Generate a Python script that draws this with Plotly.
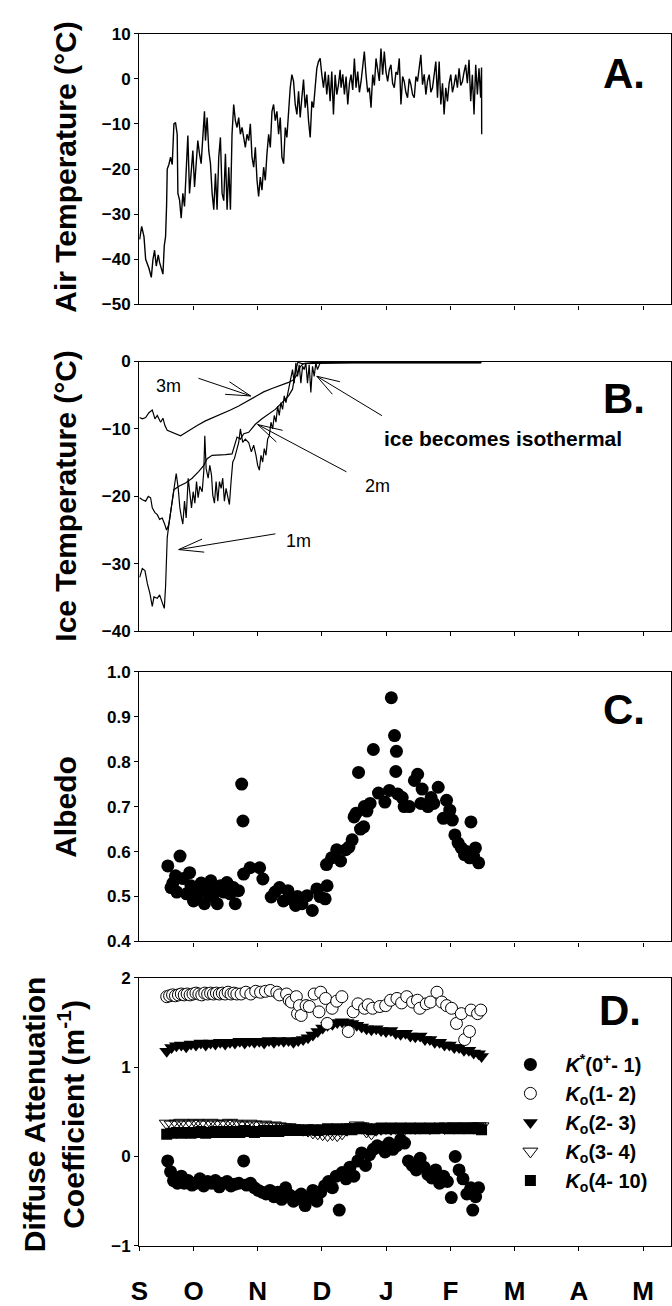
import math
import plotly.graph_objects as go

FONT = "Liberation Sans, Arial, Helvetica, sans-serif"
W, H = 672, 1306

# ---------------- data (x = month index, 0 = 1 September) ----------------
month_ticks = [1, 2, 3, 4, 5, 6, 7, 8]
month_labels = ["S", "O", "N", "D", "J", "F", "M", "A", "M"]

# Panel A: air temperature (deg C)
air_month = [0.161, 0.193, 0.229, 0.255, 0.306, 0.343, 0.369, 0.394, 0.420, 0.451, 0.472, 0.498, 0.524, 0.545,
             0.565, 0.581, 0.591, 0.617, 0.643, 0.669, 0.695, 0.720, 0.746, 0.757, 0.783, 0.808, 0.834, 0.860,
             0.886, 0.912, 0.938, 0.964, 0.990, 1.016, 1.041, 1.067, 1.093, 1.119, 1.145, 1.171, 1.186, 1.212,
             1.238, 1.264, 1.290, 1.316, 1.342, 1.367, 1.393, 1.419, 1.445, 1.471, 1.497, 1.523, 1.549, 1.575,
             1.600, 1.626, 1.652, 1.678, 1.704, 1.730, 1.756, 1.782, 1.807, 1.833, 1.859, 1.885, 1.911, 1.937,
             1.963, 1.989, 2.014, 2.040, 2.066, 2.092, 2.118, 2.144, 2.170, 2.196, 2.222, 2.247, 2.273, 2.299,
             2.325, 2.351, 2.377, 2.403, 2.429, 2.454, 2.480, 2.506, 2.532, 2.558, 2.584, 2.610, 2.636, 2.661,
             2.687, 2.713, 2.739, 2.765, 2.791, 2.817, 2.843, 2.868, 2.894, 2.920, 2.946, 2.972, 2.998, 3.024,
             3.050, 3.075, 3.101, 3.127, 3.153, 3.179, 3.205, 3.231, 3.257, 3.283, 3.298, 3.324, 3.350, 3.376,
             3.402, 3.428, 3.453, 3.479, 3.505, 3.531, 3.557, 3.583, 3.609, 3.635, 3.660, 3.686, 3.712, 3.738,
             3.764, 3.790, 3.816, 3.842, 3.867, 3.893, 3.919, 3.945, 3.971, 3.997, 4.023, 4.049, 4.074, 4.100,
             4.126, 4.152, 4.178, 4.204, 4.230, 4.256, 4.281, 4.307, 4.333, 4.359, 4.385, 4.411, 4.437, 4.463,
             4.488, 4.514, 4.540, 4.566, 4.592, 4.618, 4.644, 4.670, 4.696, 4.721, 4.747, 4.773, 4.799, 4.825,
             4.851, 4.877, 4.902, 4.928, 4.954, 4.980, 5.006, 5.032, 5.058, 5.083, 5.109, 5.135, 5.161, 5.187,
             5.213, 5.238, 5.264, 5.290, 5.316, 5.342, 5.368, 5.394, 5.420, 5.445, 5.471, 5.485, 5.487]
air_temp = [-35.6, -32.7, -35.0, -40.0, -42.0, -44.0, -40.0, -38.0, -41.5, -39.0, -40.7, -42.0, -43.3, -37.0,
            -35.0, -28.0, -20.0, -19.0, -17.4, -19.0, -10.0, -9.7, -12.3, -25.4, -26.9, -30.9, -25.4, -28.3,
            -18.8, -12.6, -25.4, -21.0, -15.9, -24.0, -18.0, -13.7, -16.6, -18.8, -13.0, -7.2, -13.7, -8.6,
            -16.0, -18.8, -25.4, -29.0, -21.0, -29.0, -17.4, -13.0, -25.4, -27.0, -16.6, -29.0, -19.6, -29.0,
            -12.3, -5.7, -9.3, -10.8, -8.6, -12.3, -10.8, -13.0, -15.2, -12.3, -13.7, -10.0, -17.4, -19.6,
            -15.2, -22.5, -26.1, -21.8, -24.7, -19.6, -22.5, -16.6, -12.3, -15.2, -7.2, -5.7, -9.3, -7.2,
            -12.3, -8.6, -17.4, -18.8, -10.8, -13.0, -6.4, -2.0, 0.9, -0.6, -5.7, -7.9, -2.8, -8.6,
            -4.2, -0.2, -6.4, -3.5, -9.3, -13.0, -5.0, -6.4, -2.0, 2.3, 3.8, 4.5, 0.9, -2.0,
            1.6, -3.5, 0.9, -5.0, 1.6, -7.9, 0.9, -3.5, -1.3, 2.0, -2.0, 1.0, -3.5, 0.5,
            -5.7, -1.0, 0.9, -2.5, 4.5, -2.0, 1.6, -3.0, -0.6, 2.5, 6.0, 0.9, -3.0, -2.0,
            -6.4, 0.9, -1.5, 4.5, 2.3, -0.5, 6.7, 0.9, 6.0, 1.5, -0.6, 2.0, 3.1, -1.0,
            -2.0, 1.5, 0.9, 4.5, -5.7, 0.5, -0.6, -3.0, -4.2, 0.0, -1.3, -3.5, -4.2, 0.5,
            -0.6, 2.0, 5.3, -1.3, 1.0, -3.5, -0.5, 0.9, -3.0, -2.0, 1.0, 3.8, -4.2, 3.8,
            -5.7, -1.0, -7.9, -2.0, -5.0, -1.0, 0.9, -3.0, -1.3, 0.9, -2.0, 2.3, -1.5, -0.6,
            1.5, 3.1, -1.0, 4.2, -5.0, 0.9, -7.9, 3.1, -3.5, 2.3, -4.2, 2.5, -12.3]

# Panel B: ice temperature at 1 m, 2 m, 3 m (deg C)
ice1_month = [0.161, 0.203, 0.244, 0.281, 0.322, 0.358, 0.384, 0.436, 0.472, 0.513, 0.545, 0.565, 0.591, 0.617,
              0.653, 0.695, 0.731, 0.762, 0.788, 0.814, 0.834, 0.860, 0.886, 0.917, 0.943, 0.969, 0.995, 1.021,
              1.047, 1.072, 1.098, 1.135, 1.160, 1.176, 1.197, 1.228, 1.254, 1.280, 1.300, 1.326, 1.352, 1.378,
              1.404, 1.430, 1.455, 1.481, 1.507, 1.533, 1.559, 1.585, 1.611, 1.637, 1.704, 1.730, 1.766, 1.807,
              1.859, 1.901, 1.937, 1.973, 1.999, 2.025, 2.051, 2.077, 2.102, 2.128, 2.154, 2.180, 2.206, 2.232,
              2.258, 2.284, 2.310, 2.335, 2.361, 2.387, 2.413, 2.439, 2.465, 2.491, 2.517, 2.542, 2.568, 2.594,
              2.620, 2.646, 2.672, 2.698, 2.724, 2.749, 2.775, 2.801, 2.827, 2.853, 2.879, 2.905, 2.930, 2.972,
              3.300, 4.000, 4.800, 5.480]
ice1_temp = [-32.0, -30.7, -31.0, -32.9, -34.4, -36.3, -34.9, -35.1, -34.6, -35.6, -36.6, -33.4, -26.1, -24.1,
             -21.7, -19.3, -16.6, -18.8, -21.7, -23.2, -24.1, -20.7, -23.2, -17.3, -19.8, -21.7, -19.3, -21.0,
             -17.8, -20.2, -18.5, -19.3, -16.3, -11.0, -15.9, -17.3, -15.4, -16.8, -19.8, -21.0, -17.8, -20.7,
             -17.8, -18.8, -17.3, -20.7, -18.8, -19.8, -21.2, -17.8, -14.9, -14.4, -12.0, -10.0, -12.0, -11.5,
             -12.0, -13.4, -12.4, -13.9, -15.4, -16.1, -13.9, -14.9, -12.9, -13.9, -11.5, -11.0, -9.0, -10.0,
             -8.0, -9.0, -6.6, -8.0, -6.1, -7.1, -5.1, -6.1, -4.9, -3.7, -2.7, -1.2, -3.2, -0.2,
             -2.2, -0.5, -3.2, -0.7, -1.2, -0.2, -3.2, -0.5, -4.6, -0.7, -2.2, -0.2, -1.2, -0.2,
             -0.15, -0.15, -0.15, -0.15]

ice2_month = [0.161, 0.203, 0.255, 0.296, 0.332, 0.358, 0.400, 0.436, 0.472, 0.513, 0.550, 0.581, 0.617, 0.653,
              0.695, 0.772, 0.876, 0.979, 1.083, 1.160, 1.212, 1.290, 1.393, 1.497, 1.600, 1.642, 1.678, 1.730,
              1.782, 1.859, 1.963, 2.066, 2.170, 2.273, 2.377, 2.480, 2.542, 2.584, 2.625, 2.687, 3.500, 5.480]
ice2_temp = [-20.2, -20.5, -20.7, -20.0, -20.2, -21.7, -22.4, -22.7, -23.4, -23.2, -24.1, -25.0, -24.1, -21.7,
             -19.0, -18.5, -18.0, -17.3, -16.3, -15.4, -14.4, -13.9, -13.9, -13.8, -13.7, -12.4, -11.2, -11.5,
             -10.7, -10.5, -9.3, -8.5, -7.8, -7.1, -6.1, -5.1, -4.1, -1.7, -0.1, -0.3, -0.15, -0.15]

ice3_month = [0.161, 0.203, 0.255, 0.306, 0.358, 0.400, 0.436, 0.488, 0.524, 0.555, 0.591, 0.669, 0.746, 0.798,
              0.850, 0.928, 1.057, 1.186, 1.316, 1.445, 1.575, 1.704, 1.833, 1.963, 2.092, 2.222, 2.351, 2.480,
              2.558, 2.610, 2.661, 2.713, 2.843, 3.600, 4.500, 5.480]
ice3_temp = [-8.3, -8.5, -8.3, -7.6, -7.2, -8.5, -8.0, -9.0, -8.4, -9.5, -10.2, -10.5, -10.7, -11.0,
             -10.7, -10.2, -9.5, -8.8, -8.3, -7.7, -7.2, -6.6, -5.9, -5.1, -4.5, -4.0, -3.6, -3.1,
             -2.7, -2.0, -0.8, -0.3, -0.15, -0.15, -0.15, -0.15]

# Panel C: albedo
albedo_month = [0.60, 0.65, 0.68, 0.72, 0.74, 0.79, 0.84, 0.89, 0.94, 0.96, 1.00, 1.05, 1.10, 1.12, 1.17,
                1.20, 1.27, 1.30, 1.32, 1.37, 1.42, 1.47, 1.52, 1.57, 1.62, 1.65, 1.70, 1.75, 1.77, 1.78,
                1.88, 2.03, 2.08, 2.21, 2.27, 2.34, 2.40, 2.47, 2.52, 2.59, 2.62, 2.69, 2.77, 2.85, 2.92,
                2.97, 3.05, 3.07, 3.08, 3.15, 3.23, 3.29, 3.37, 3.42, 3.47, 3.50, 3.53, 3.57, 3.60, 3.65,
                3.66, 3.70, 3.75, 3.80, 3.88, 3.98, 4.05, 4.08, 4.13, 4.15, 4.16, 4.18, 4.25, 4.28, 4.36,
                4.44, 4.49, 4.54, 4.56, 4.65, 4.70, 4.74, 4.81, 4.89, 4.94, 4.99, 5.03, 5.07, 5.12, 5.17,
                5.22, 5.25, 5.30, 5.32, 5.36, 5.39, 5.44]
albedo = [0.568, 0.520, 0.530, 0.546, 0.510, 0.590, 0.540, 0.506, 0.553, 0.524, 0.490, 0.502, 0.517, 0.530, 0.484,
          0.510, 0.535, 0.500, 0.510, 0.484, 0.524, 0.510, 0.531, 0.506, 0.520, 0.484, 0.513, 0.750, 0.668, 0.550,
          0.564, 0.564, 0.539, 0.499, 0.510, 0.520, 0.490, 0.513, 0.495, 0.480, 0.500, 0.484, 0.502, 0.469, 0.517,
          0.500, 0.495, 0.571, 0.524, 0.586, 0.604, 0.579, 0.604, 0.610, 0.626, 0.677, 0.685, 0.776, 0.650, 0.655,
          0.700, 0.690, 0.707, 0.827, 0.730, 0.710, 0.736, 0.942, 0.858, 0.778, 0.823, 0.728, 0.720, 0.700, 0.700,
          0.758, 0.772, 0.707, 0.739, 0.700, 0.720, 0.707, 0.743, 0.674, 0.714, 0.692, 0.670, 0.637, 0.619, 0.608,
          0.593, 0.600, 0.586, 0.666, 0.590, 0.608, 0.575]

# Panel D: diffuse attenuation coefficients (m^-1)
kstar_month = [0.598, 0.643, 0.689, 0.750, 0.810, 0.856, 0.917, 0.977, 1.038, 1.099,
               1.159, 1.220, 1.281, 1.341, 1.402, 1.463, 1.524, 1.584, 1.645, 1.706,
               1.781, 1.827, 1.888, 1.948, 2.009, 2.070, 2.131, 2.191, 2.252, 2.313,
               2.373, 2.434, 2.495, 2.556, 2.616, 2.677, 2.738, 2.798, 2.859, 2.920,
               2.980, 3.041, 3.102, 3.163, 3.223, 3.269, 3.315, 3.375, 3.436, 3.497,
               3.558, 3.618, 3.679, 3.740, 3.800, 3.861, 3.922, 3.982, 4.043, 4.104,
               4.165, 4.225, 4.286, 4.346, 4.407, 4.468, 4.529, 4.589, 4.650, 4.711,
               4.771, 4.832, 4.893, 4.953, 5.014, 5.075, 5.135, 5.196, 5.257, 5.317,
               5.348, 5.393, 5.439]
kstar = [-0.05, -0.17, -0.27, -0.30, -0.22, -0.30, -0.27, -0.32, -0.30, -0.25,
         -0.33, -0.28, -0.30, -0.27, -0.34, -0.30, -0.28, -0.33, -0.31, -0.30,
         -0.05, -0.32, -0.30, -0.35, -0.38, -0.40, -0.42, -0.38, -0.45, -0.40,
         -0.48, -0.35, -0.43, -0.50, -0.45, -0.42, -0.55, -0.45, -0.38, -0.50,
         -0.40, -0.33, -0.28, -0.35, -0.22, -0.60, -0.18, -0.25, -0.12, -0.22,
         -0.05, 0.04, -0.10, 0.02, 0.08, 0.12, 0.10, 0.05, 0.15, 0.08,
         0.12, 0.19, 0.15, -0.05, -0.10, -0.15, -0.02, -0.12, -0.20, -0.24,
         -0.15, -0.30, -0.22, -0.28, -0.46, 0.00, -0.15, -0.25, -0.42, -0.35,
         -0.60, -0.45, -0.35]

ko12_month = [0.583, 0.628, 0.674, 0.719, 0.765, 0.810, 0.856, 0.901, 0.947, 0.992,
              1.038, 1.083, 1.129, 1.175, 1.220, 1.266, 1.311, 1.357, 1.402, 1.448,
              1.493, 1.539, 1.584, 1.630, 1.675, 1.741, 1.816, 1.892, 1.968, 2.044,
              2.120, 2.196, 2.297, 2.340, 2.449, 2.490, 2.525, 2.601, 2.620, 2.650,
              2.677, 2.753, 2.803, 2.879, 2.954, 2.980, 3.056, 3.082, 3.158, 3.230,
              3.310, 3.410, 3.486, 3.561, 3.663, 3.720, 3.789, 3.900, 3.992, 4.068,
              4.168, 4.240, 4.320, 4.411, 4.487, 4.524, 4.624, 4.690, 4.791, 4.866,
              4.942, 5.018, 5.094, 5.170, 5.222, 5.297, 5.322, 5.423, 5.473]
ko12 = [1.79, 1.80, 1.81, 1.80, 1.81, 1.82, 1.81, 1.82, 1.81, 1.82,
        1.83, 1.82, 1.81, 1.83, 1.82, 1.83, 1.82, 1.83, 1.82, 1.83,
        1.82, 1.84, 1.82, 1.83, 1.82, 1.82, 1.84, 1.82, 1.85, 1.84,
        1.85, 1.86, 1.84, 1.81, 1.82, 1.75, 1.73, 1.79, 1.60, 1.69,
        1.58, 1.69, 1.68, 1.82, 1.62, 1.84, 1.77, 1.49, 1.66, 1.74,
        1.79, 1.40, 1.62, 1.71, 1.66, 1.70, 1.66, 1.68, 1.69, 1.75,
        1.77, 1.72, 1.79, 1.73, 1.75, 1.66, 1.71, 1.73, 1.84, 1.73,
        1.69, 1.66, 1.49, 1.60, 1.31, 1.40, 1.64, 1.60, 1.64]

ko_month = [0.583, 0.659, 0.734, 0.810, 0.886, 0.962, 1.038, 1.114, 1.190, 1.266, 1.341,
            1.417, 1.493, 1.569, 1.645, 1.721, 1.797, 1.873, 1.948, 2.024, 2.100, 2.176,
            2.252, 2.328, 2.404, 2.480, 2.556, 2.631, 2.707, 2.783, 2.859, 2.935, 3.011,
            3.087, 3.163, 3.238, 3.314, 3.390, 3.466, 3.542, 3.618, 3.694, 3.770, 3.845,
            3.921, 3.997, 4.073, 4.149, 4.225, 4.301, 4.377, 4.453, 4.529, 4.604, 4.680,
            4.756, 4.832, 4.908, 4.984, 5.060, 5.135, 5.211, 5.287, 5.363, 5.439, 5.485]
ko23 = [1.18, 1.22, 1.24, 1.25, 1.23, 1.26, 1.25, 1.27, 1.25, 1.27, 1.26,
        1.28, 1.26, 1.28, 1.27, 1.29, 1.27, 1.29, 1.28, 1.29, 1.27, 1.30,
        1.28, 1.30, 1.29, 1.30, 1.28, 1.30, 1.31, 1.33, 1.36, 1.40, 1.44,
        1.47, 1.48, 1.50, 1.51, 1.50, 1.49, 1.47, 1.45, 1.43, 1.42, 1.43,
        1.41, 1.40, 1.41, 1.38, 1.37, 1.38, 1.35, 1.34, 1.35, 1.31, 1.31,
        1.28, 1.28, 1.25, 1.25, 1.22, 1.22, 1.19, 1.19, 1.16, 1.15, 1.12]
ko34 = [0.37, 0.36, 0.37, 0.38, 0.36, 0.37, 0.38, 0.37, 0.36, 0.38, 0.37,
        0.36, 0.37, 0.38, 0.37, 0.36, 0.35, 0.37, 0.36, 0.35, 0.36, 0.34,
        0.35, 0.34, 0.33, 0.33, 0.32, 0.31, 0.30, 0.29, 0.27, 0.26, 0.25,
        0.24, 0.25, 0.24, 0.26, 0.30, 0.33, 0.35, 0.34, 0.28, 0.26, 0.30,
        0.31, 0.32, 0.31, 0.32, 0.33, 0.32, 0.33, 0.32, 0.33, 0.33, 0.32,
        0.33, 0.33, 0.32, 0.33, 0.34, 0.33, 0.33, 0.34, 0.33, 0.34, 0.34]
ko410 = [0.25, 0.26, 0.27, 0.26, 0.27, 0.26, 0.27, 0.28, 0.26, 0.27, 0.28,
         0.27, 0.28, 0.27, 0.28, 0.27, 0.29, 0.28, 0.27, 0.28, 0.29, 0.28,
         0.29, 0.28, 0.29, 0.30, 0.29, 0.30, 0.29, 0.30, 0.30, 0.29, 0.30,
         0.31, 0.30, 0.31, 0.30, 0.31, 0.30, 0.31, 0.32, 0.31, 0.30, 0.31,
         0.32, 0.31, 0.32, 0.31, 0.32, 0.31, 0.32, 0.31, 0.32, 0.31, 0.32,
         0.31, 0.32, 0.32, 0.31, 0.32, 0.31, 0.32, 0.31, 0.32, 0.31, 0.30]

# ---------------- layout geometry ----------------
X_RANGE = [0.155, 8.435]
X_DOMAIN = [132 / W, 671 / W]


def ydom(top_px, bottom_px):
    return [1 - bottom_px / H, 1 - top_px / H]


panels = [
    dict(dom=ydom(25, 300), rng=[-50, 10], tv=[-50, -40, -30, -20, -10, 0, 10], fmt=None),
    dict(dom=ydom(358, 632), rng=[-40, 0], tv=[-40, -30, -20, -10, 0], fmt=None),
    dict(dom=ydom(673, 947), rng=[0.4, 1.0], tv=[0.4, 0.5, 0.6, 0.7, 0.8, 0.9, 1.0], fmt=".1f"),
    dict(dom=ydom(984, 1256), rng=[-1, 2], tv=[-1, 0, 1, 2], fmt=None),
]

fig = go.Figure()

# Panel A
fig.add_trace(go.Scatter(x=air_month, y=air_temp, mode="lines", line=dict(color="black", width=1.4),
                         xaxis="x", yaxis="y", showlegend=False, hoverinfo="skip"))
# Panel B
for xm, yt in [(ice3_month, ice3_temp), (ice2_month, ice2_temp), (ice1_month, ice1_temp)]:
    fig.add_trace(go.Scatter(x=xm, y=yt, mode="lines", line=dict(color="black", width=1.2),
                             xaxis="x2", yaxis="y2", showlegend=False, hoverinfo="skip"))
# Panel C
fig.add_trace(go.Scatter(x=albedo_month, y=albedo, mode="markers",
                         marker=dict(symbol="circle", size=13, color="black"),
                         xaxis="x3", yaxis="y3", showlegend=False, hoverinfo="skip"))
# Panel D
fig.add_trace(go.Scatter(x=kstar_month, y=kstar, mode="markers", name="<i>K</i><sup>*</sup>(0<sup>+</sup>- 1)",
                         marker=dict(symbol="circle", size=13, color="black"),
                         xaxis="x4", yaxis="y4", legendrank=1))
fig.add_trace(go.Scatter(x=ko_month, y=ko34, mode="markers", name="<i>K</i><sub>o</sub>(3- 4)",
                         marker=dict(symbol="triangle-down-open", size=13, color="black", line=dict(width=1)),
                         xaxis="x4", yaxis="y4", legendrank=4))
fig.add_trace(go.Scatter(x=ko_month, y=ko410, mode="markers", name="<i>K</i><sub>o</sub>(4- 10)",
                         marker=dict(symbol="square", size=11, color="black"),
                         xaxis="x4", yaxis="y4", legendrank=5))
fig.add_trace(go.Scatter(x=ko_month, y=ko23, mode="markers", name="<i>K</i><sub>o</sub>(2- 3)",
                         marker=dict(symbol="triangle-down", size=13, color="black"),
                         xaxis="x4", yaxis="y4", legendrank=3))
fig.add_trace(go.Scatter(x=ko12_month, y=ko12, mode="markers", name="<i>K</i><sub>o</sub>(1- 2)",
                         marker=dict(symbol="circle", size=12, color="white", line=dict(color="black", width=1)),
                         xaxis="x4", yaxis="y4", legendrank=2))

layout = dict(
    width=W, height=H, margin=dict(l=0, r=0, t=0, b=0),
    paper_bgcolor="white", plot_bgcolor="white",
    font=dict(family=FONT, color="black"),
    showlegend=True,
    legend=dict(x=493 / W, y=1 - 1052 / H, xanchor="left", yanchor="top",
                bgcolor="rgba(0,0,0,0)", borderwidth=0, itemwidth=60, itemsizing="trace",
                font=dict(family=FONT, size=20, color="black", weight="bold"),
                traceorder="normal"),
)

for i, p in enumerate(panels, start=1):
    sx = "" if i == 1 else str(i)
    xa = dict(domain=X_DOMAIN, range=X_RANGE, anchor="y" + sx, showline=True, mirror=True,
              linecolor="black", linewidth=1.3, ticks="outside", ticklen=4, tickwidth=1,
              tickcolor="black", tickvals=month_ticks, showticklabels=False,
              showgrid=False, zeroline=False, fixedrange=True)
    if i == 4:
        xa.update(tickvals=[X_RANGE[0] + 0.002] + month_ticks, ticktext=month_labels,
                  showticklabels=True, ticklabelstandoff=18,
                  tickfont=dict(family=FONT, size=26, color="black", weight="bold"))
    ya = dict(domain=p["dom"], range=p["rng"], anchor="x" + sx, showline=True, mirror=True,
              linecolor="black", linewidth=1.3, ticks="outside", ticklen=4, tickwidth=1,
              tickcolor="black", tickvals=p["tv"], showgrid=False, zeroline=False, fixedrange=True,
              tickfont=dict(family=FONT, size=17, color="black", weight="bold"))
    if p["fmt"]:
        ya["tickformat"] = p["fmt"]
    layout["xaxis" + sx] = xa
    layout["yaxis" + sx] = ya

fig.update_layout(**layout)


def P(xp, yp):
    return xp / W, 1 - yp / H


annotations = []
# y-axis titles
for text, cx, cy in [("Air Temperature (°C)", 57, 160), ("Ice Temperature (°C)", 57, 494),
                     ("Albedo", 57, 810),
                     ("Diffuse Attenuation<br>Coefficient (m<sup>-1</sup>)", 45, 1122)]:
    x, y = P(cx, cy)
    annotations.append(dict(text=text, x=x, y=y, xref="paper", yref="paper", showarrow=False,
                            textangle=-90, xanchor="center", yanchor="middle",
                            font=dict(family=FONT, size=30, color="black", weight="bold")))
# panel letters
for text, cx, cy in [("A.", 623, 66), ("B.", 623, 396), ("C.", 623, 711), ("D.", 619, 1017)]:
    x, y = P(cx, cy)
    annotations.append(dict(text=text, x=x, y=y, xref="paper", yref="paper", showarrow=False,
                            xanchor="center", yanchor="middle",
                            font=dict(family=FONT, size=42, color="black", weight="bold")))
# panel B labels
for text, cx, cy, sz, wt in [("3m", 162, 383, 18, "normal"), ("1m", 293, 540, 18, "normal"),
                             ("2m", 374, 484, 18, "normal"),
                             ("ice becomes isothermal", 501, 436, 21, "bold")]:
    x, y = P(cx, cy)
    annotations.append(dict(text=text, x=x, y=y, xref="paper", yref="paper", showarrow=False,
                            xanchor="center", yanchor="middle",
                            font=dict(family=FONT, size=sz, color="black", weight=wt)))
fig.update_layout(annotations=annotations)

# arrows (shaft + open head) for panel B labels
shapes = []


def arrow(tail, tip, L=26, ang=15):
    (x0, y0), (x1, y1) = tail, tip
    dx, dy = x0 - x1, y0 - y1
    d = math.hypot(dx, dy)
    ux, uy = dx / d, dy / d
    segs = [(tail, tip)]
    for s in (1, -1):
        a = math.radians(ang * s)
        rx = ux * math.cos(a) - uy * math.sin(a)
        ry = ux * math.sin(a) + uy * math.cos(a)
        segs.append((tip, (x1 + L * rx, y1 + L * ry)))
    for (a0, a1) in segs:
        px0, py0 = P(*a0)
        px1, py1 = P(*a1)
        shapes.append(dict(type="line", xref="paper", yref="paper", x0=px0, y0=py0, x1=px1, y1=py1,
                           line=dict(color="black", width=1)))


arrow((192, 375), (245, 393))
arrow((270, 533), (172, 549))
arrow((342, 470), (252, 422))
arrow((378, 413), (312, 373), L=24, ang=18)
fig.update_layout(shapes=shapes)

fig.write_html("out.html")
